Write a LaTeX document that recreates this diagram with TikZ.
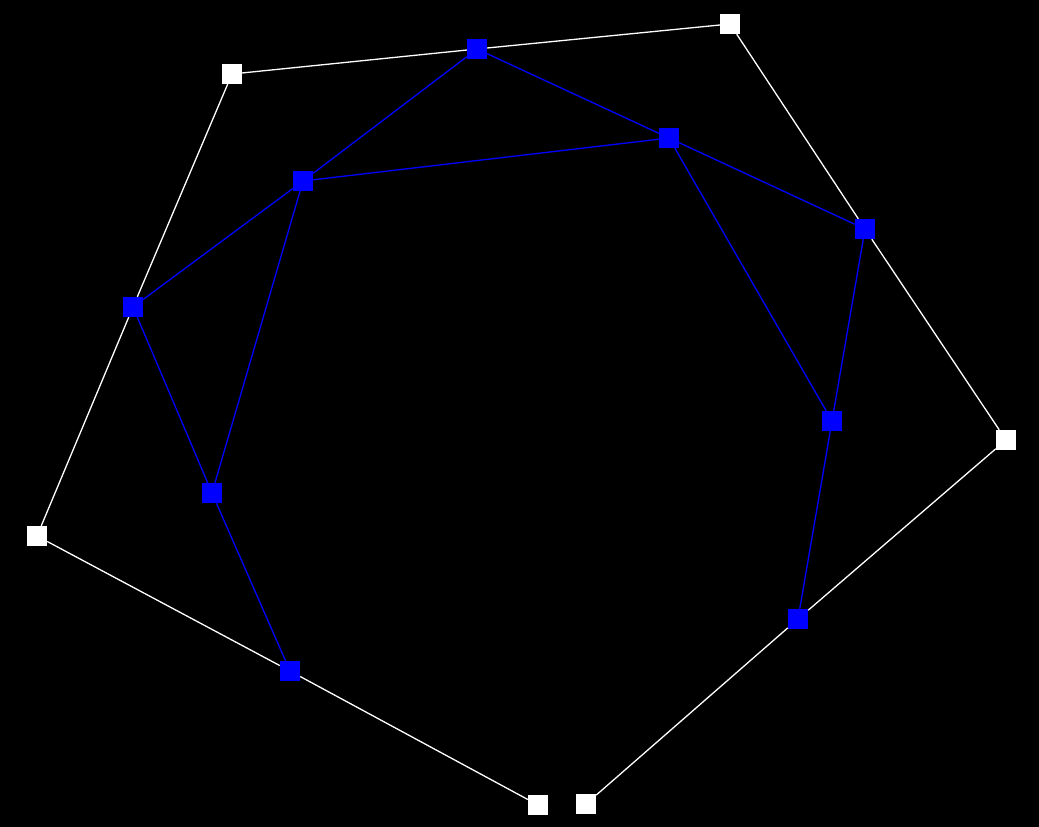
\documentclass[tikz,border=0pt]{standalone}
\begin{document}
\begin{tikzpicture}[x=1pt,y=-1pt,
  wsq/.style={rectangle,fill=white,draw=none,minimum size=20pt,inner sep=0pt},
  bsq/.style={rectangle,fill=blue,draw=none,minimum size=20pt,inner sep=0pt},
  wline/.style={draw=white,line width=1.3pt},
  bline/.style={draw=blue,line width=1.3pt}]
\fill[black] (0,0) rectangle (1039,827);
\useasboundingbox (0,0) rectangle (1039,827);
% white nodes
\node[wsq] (w1) at (232,74) {};
\node[wsq] (w2) at (730,24) {};
\node[wsq] (w3) at (1006,440) {};
\node[wsq] (w4) at (586,804) {};
\node[wsq] (w5) at (538,805) {};
\node[wsq] (w6) at (37,536) {};
% blue nodes
\node[bsq] (b1) at (477,49) {};
\node[bsq] (b2) at (669,138) {};
\node[bsq] (b3) at (865,229) {};
\node[bsq] (b4) at (832,421) {};
\node[bsq] (b5) at (798,619) {};
\node[bsq] (b6) at (303,181) {};
\node[bsq] (b7) at (133,307) {};
\node[bsq] (b8) at (212,493) {};
\node[bsq] (b9) at (290,671) {};
% white edges
\draw[wline] (w1) -- (b1);
\draw[wline] (b1) -- (w2);
\draw[wline] (w2) -- (b3);
\draw[wline] (b3) -- (w3);
\draw[wline] (w3) -- (b5);
\draw[wline] (b5) -- (w4);
\draw[wline] (w5) -- (b9);
\draw[wline] (b9) -- (w6);
\draw[wline] (w6) -- (b7);
\draw[wline] (b7) -- (w1);
% blue edges
\draw[bline] (b1) -- (b2);
\draw[bline] (b2) -- (b3);
\draw[bline] (b1) -- (b6);
\draw[bline] (b6) -- (b2);
\draw[bline] (b2) -- (b4);
\draw[bline] (b3) -- (b4);
\draw[bline] (b4) -- (b5);
\draw[bline] (b6) -- (b7);
\draw[bline] (b6) -- (b8);
\draw[bline] (b7) -- (b8);
\draw[bline] (b8) -- (b9);
\end{tikzpicture}
\end{document}
